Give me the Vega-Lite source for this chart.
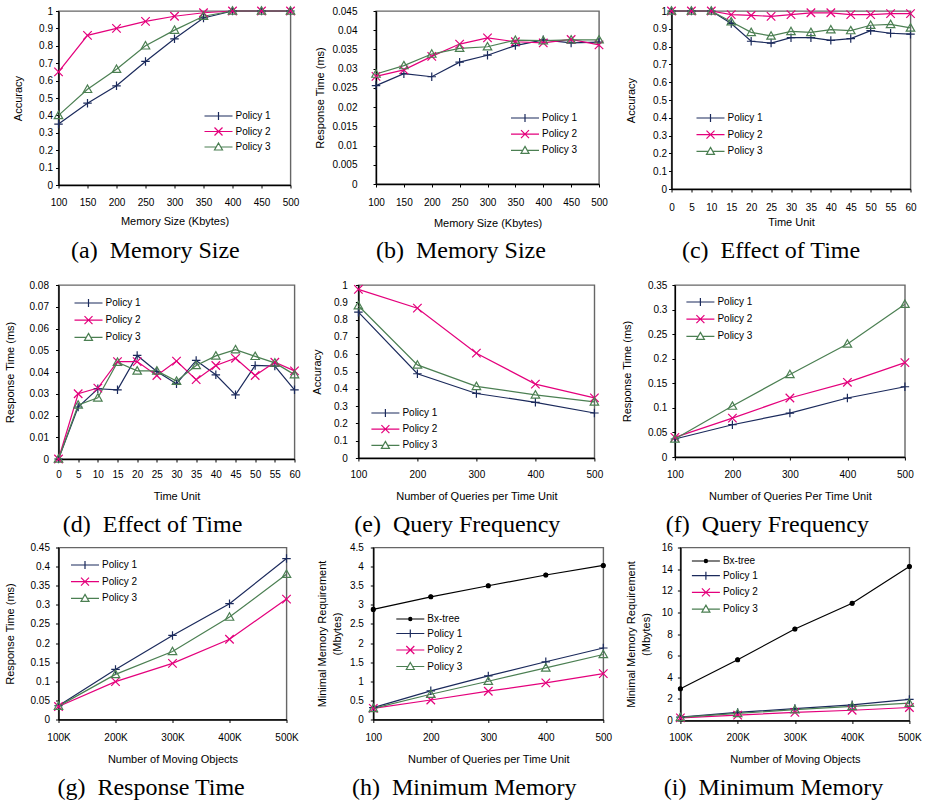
{
  "$schema": "https://vega.github.io/schema/vega-lite/v6.json",
  "background": "white",
  "padding": {"left": 2.5, "top": 3, "right": 0, "bottom": 4},
  "spacing": 15,
  "resolve": {"scale": {"color": "independent", "shape": "independent", "stroke": "independent", "fill": "independent"}, "legend": {"color": "independent", "shape": "independent", "stroke": "independent", "fill": "independent"}},
  "vconcat": [
    {
      "spacing": 12.5,
      "resolve": {"scale": {"color": "independent", "shape": "independent", "stroke": "independent", "fill": "independent"}, "legend": {"color": "independent", "shape": "independent", "stroke": "independent", "fill": "independent"}},
      "hconcat": [
        {
          "width": 232, "height": 174,
          "title": {"text": "(a) \u00a0Memory Size", "offset": 12.75},
          "data": {"values": [
            {"x":100,"y":0.35,"s":"Policy 1"},{"x":150,"y":0.47,"s":"Policy 1"},{"x":200,"y":0.57,"s":"Policy 1"},{"x":250,"y":0.71,"s":"Policy 1"},{"x":300,"y":0.84,"s":"Policy 1"},{"x":350,"y":0.96,"s":"Policy 1"},{"x":400,"y":1,"s":"Policy 1"},{"x":450,"y":1,"s":"Policy 1"},{"x":500,"y":1,"s":"Policy 1"},
            {"x":100,"y":0.65,"s":"Policy 2"},{"x":150,"y":0.86,"s":"Policy 2"},{"x":200,"y":0.9,"s":"Policy 2"},{"x":250,"y":0.94,"s":"Policy 2"},{"x":300,"y":0.97,"s":"Policy 2"},{"x":350,"y":0.99,"s":"Policy 2"},{"x":400,"y":1,"s":"Policy 2"},{"x":450,"y":1,"s":"Policy 2"},{"x":500,"y":1,"s":"Policy 2"},
            {"x":100,"y":0.4,"s":"Policy 3"},{"x":150,"y":0.55,"s":"Policy 3"},{"x":200,"y":0.665,"s":"Policy 3"},{"x":250,"y":0.8,"s":"Policy 3"},{"x":300,"y":0.89,"s":"Policy 3"},{"x":350,"y":0.97,"s":"Policy 3"},{"x":400,"y":1,"s":"Policy 3"},{"x":450,"y":1,"s":"Policy 3"},{"x":500,"y":1,"s":"Policy 3"}
          ]},
          "encoding": {
            "x": {"field": "x", "type": "quantitative", "scale": {"domain": [100, 500], "nice": false, "zero": false},
                  "axis": {"title": "Memory Size (Kbytes)", "values": [100,150,200,250,300,350,400,450,500], "format": ".4~f", "labelPadding": 9.3, "minExtent": 30.25, "maxExtent": 30.25}},
            "y": {"field": "y", "type": "quantitative", "scale": {"domain": [0, 1], "nice": false},
                  "axis": {"title": "Accuracy", "values": [0,0.1,0.2,0.3,0.4,0.5,0.6,0.7,0.8,0.9,1], "format": ".4~f", "labelPadding": 3, "minExtent": 35.5, "maxExtent": 35.5}}
          },
          "resolve": {"scale": {"shape": "independent", "stroke": "independent", "fill": "independent"}, "legend": {"shape": "independent", "stroke": "independent", "fill": "independent"}},
          "layer": [
            {"mark": {"type": "line", "strokeWidth": 1.2},
             "encoding": {"color": {"field": "s", "type": "nominal", "scale": {"domain": ["Policy 1","Policy 2","Policy 3"], "range": ["#1b2a5c","#e4007c","#4b7f52"]}, "legend": null}}},
            {"mark": {"type": "point", "filled": false, "size": 72, "strokeWidth": 1.2, "opacity": 1},
             "encoding": {"color": {"field": "s", "type": "nominal", "scale": {"domain": ["Policy 1","Policy 2","Policy 3"], "range": ["#1b2a5c","#e4007c","#4b7f52"]}, "legend": null},
                          "shape": {"field": "s", "type": "nominal", "scale": {"domain": ["Policy 1","Policy 2","Policy 3"], "range": ["M-1,0L1,0M0,-1L0,1","M-1,-1L1,1M-1,1L1,-1","M0,-1L1,0.75L-1,0.75Z"]}, "legend": null}}},
            {"transform": [{"filter": "false"}],
             "mark": {"type": "point", "size": 64, "strokeWidth": 1.2, "opacity": 1},
             "encoding": {
               "stroke": {"field": "s", "type": "nominal", "scale": {"domain": ["Policy 1","Policy 2","Policy 3"], "range": ["#1b2a5c","#e4007c","#4b7f52"]}, "legend": {"title": null, "legendX": 155, "legendY": 100, "rowPadding": 1.5}},
               "fill": {"field": "s", "type": "nominal", "scale": {"domain": ["Policy 1","Policy 2","Policy 3"], "range": ["transparent","transparent","transparent"]}, "legend": {"title": null, "legendX": 155, "legendY": 100, "rowPadding": 1.5}},
               "shape": {"field": "s", "type": "nominal", "scale": {"domain": ["Policy 1","Policy 2","Policy 3"], "range": ["M-3.5,0L3.5,0M0,-1L0,1","M-3.5,0L3.5,0M-1,-1L1,1M-1,1L1,-1","M-3.5,0L-0.57,0M0.57,0L3.5,0M0,-1L1,0.75L-1,0.75Z"]}, "legend": {"title": null, "legendX": 155, "legendY": 100, "rowPadding": 1.5}}
             }}
          ]
        },
        {
          "spacing": 14.5,
          "resolve": {"scale": {"color": "independent", "shape": "independent", "stroke": "independent", "fill": "independent"}, "legend": {"color": "independent", "shape": "independent", "stroke": "independent", "fill": "independent"}},
          "hconcat": [
            {
              "width": 223, "height": 173,
              "title": {"text": "(b) \u00a0Memory Size", "offset": 10.75},
              "data": {"values": [
                {"x":100,"y":0.0256,"s":"Policy 1"},{"x":150,"y":0.0287,"s":"Policy 1"},{"x":200,"y":0.0279,"s":"Policy 1"},{"x":250,"y":0.0317,"s":"Policy 1"},{"x":300,"y":0.0335,"s":"Policy 1"},{"x":350,"y":0.036,"s":"Policy 1"},{"x":400,"y":0.0375,"s":"Policy 1"},{"x":450,"y":0.0367,"s":"Policy 1"},{"x":500,"y":0.0369,"s":"Policy 1"},
                {"x":100,"y":0.028,"s":"Policy 2"},{"x":150,"y":0.0297,"s":"Policy 2"},{"x":200,"y":0.0332,"s":"Policy 2"},{"x":250,"y":0.0364,"s":"Policy 2"},{"x":300,"y":0.038,"s":"Policy 2"},{"x":350,"y":0.037,"s":"Policy 2"},{"x":400,"y":0.0367,"s":"Policy 2"},{"x":450,"y":0.0376,"s":"Policy 2"},{"x":500,"y":0.0362,"s":"Policy 2"},
                {"x":100,"y":0.0286,"s":"Policy 3"},{"x":150,"y":0.0308,"s":"Policy 3"},{"x":200,"y":0.0338,"s":"Policy 3"},{"x":250,"y":0.0353,"s":"Policy 3"},{"x":300,"y":0.0357,"s":"Policy 3"},{"x":350,"y":0.0374,"s":"Policy 3"},{"x":400,"y":0.0373,"s":"Policy 3"},{"x":450,"y":0.0375,"s":"Policy 3"},{"x":500,"y":0.0375,"s":"Policy 3"}
              ]},
              "encoding": {
                "x": {"field": "x", "type": "quantitative", "scale": {"domain": [100, 500], "nice": false, "zero": false},
                      "axis": {"title": "Memory Size (Kbytes)", "values": [100,150,200,250,300,350,400,450,500], "format": ".4~f", "labelPadding": 10.3, "minExtent": 33.25, "maxExtent": 33.25}},
                "y": {"field": "y", "type": "quantitative", "scale": {"domain": [0, 0.045], "nice": false},
                      "axis": {"title": "Response Time (ms)", "values": [0,0.005,0.01,0.015,0.02,0.025,0.03,0.035,0.04,0.045], "format": ".4~f", "labelPadding": 16, "minExtent": 50.5, "maxExtent": 50.5}}
              },
              "resolve": {"scale": {"shape": "independent", "stroke": "independent", "fill": "independent"}, "legend": {"shape": "independent", "stroke": "independent", "fill": "independent"}},
              "layer": [
                {"mark": {"type": "line", "strokeWidth": 1.2},
                 "encoding": {"color": {"field": "s", "type": "nominal", "scale": {"domain": ["Policy 1","Policy 2","Policy 3"], "range": ["#1b2a5c","#e4007c","#4b7f52"]}, "legend": null}}},
                {"mark": {"type": "point", "filled": false, "size": 72, "strokeWidth": 1.2, "opacity": 1},
                 "encoding": {"color": {"field": "s", "type": "nominal", "scale": {"domain": ["Policy 1","Policy 2","Policy 3"], "range": ["#1b2a5c","#e4007c","#4b7f52"]}, "legend": null},
                              "shape": {"field": "s", "type": "nominal", "scale": {"domain": ["Policy 1","Policy 2","Policy 3"], "range": ["M-1,0L1,0M0,-1L0,1","M-1,-1L1,1M-1,1L1,-1","M0,-1L1,0.75L-1,0.75Z"]}, "legend": null}}},
                {"transform": [{"filter": "false"}],
                 "mark": {"type": "point", "size": 64, "strokeWidth": 1.2, "opacity": 1},
                 "encoding": {
                   "stroke": {"field": "s", "type": "nominal", "scale": {"domain": ["Policy 1","Policy 2","Policy 3"], "range": ["#1b2a5c","#e4007c","#4b7f52"]}, "legend": {"title": null, "legendX": 144, "legendY": 102, "rowPadding": 2.2}},
                   "fill": {"field": "s", "type": "nominal", "scale": {"domain": ["Policy 1","Policy 2","Policy 3"], "range": ["transparent","transparent","transparent"]}, "legend": {"title": null, "legendX": 144, "legendY": 102, "rowPadding": 2.2}},
                   "shape": {"field": "s", "type": "nominal", "scale": {"domain": ["Policy 1","Policy 2","Policy 3"], "range": ["M-3.5,0L3.5,0M0,-1L0,1","M-3.5,0L3.5,0M-1,-1L1,1M-1,1L1,-1","M-3.5,0L-0.57,0M0.57,0L3.5,0M0,-1L1,0.75L-1,0.75Z"]}, "legend": {"title": null, "legendX": 144, "legendY": 102, "rowPadding": 2.2}}
                 }}
              ]
            },
            {
              "width": 239, "height": 178,
              "title": {"text": "(c) \u00a0Effect of Time", "offset": 11.75},
              "data": {"values": [
                {"x":0,"y":1,"s":"Policy 1"},{"x":5,"y":1,"s":"Policy 1"},{"x":10,"y":1,"s":"Policy 1"},{"x":15,"y":0.93,"s":"Policy 1"},{"x":20,"y":0.83,"s":"Policy 1"},{"x":25,"y":0.82,"s":"Policy 1"},{"x":30,"y":0.85,"s":"Policy 1"},{"x":35,"y":0.85,"s":"Policy 1"},{"x":40,"y":0.835,"s":"Policy 1"},{"x":45,"y":0.845,"s":"Policy 1"},{"x":50,"y":0.89,"s":"Policy 1"},{"x":55,"y":0.875,"s":"Policy 1"},{"x":60,"y":0.87,"s":"Policy 1"},
                {"x":0,"y":1,"s":"Policy 2"},{"x":5,"y":1,"s":"Policy 2"},{"x":10,"y":1,"s":"Policy 2"},{"x":15,"y":0.98,"s":"Policy 2"},{"x":20,"y":0.975,"s":"Policy 2"},{"x":25,"y":0.97,"s":"Policy 2"},{"x":30,"y":0.98,"s":"Policy 2"},{"x":35,"y":0.99,"s":"Policy 2"},{"x":40,"y":0.99,"s":"Policy 2"},{"x":45,"y":0.98,"s":"Policy 2"},{"x":50,"y":0.98,"s":"Policy 2"},{"x":55,"y":0.985,"s":"Policy 2"},{"x":60,"y":0.985,"s":"Policy 2"},
                {"x":0,"y":1,"s":"Policy 3"},{"x":5,"y":1,"s":"Policy 3"},{"x":10,"y":1,"s":"Policy 3"},{"x":15,"y":0.94,"s":"Policy 3"},{"x":20,"y":0.88,"s":"Policy 3"},{"x":25,"y":0.86,"s":"Policy 3"},{"x":30,"y":0.885,"s":"Policy 3"},{"x":35,"y":0.88,"s":"Policy 3"},{"x":40,"y":0.895,"s":"Policy 3"},{"x":45,"y":0.89,"s":"Policy 3"},{"x":50,"y":0.92,"s":"Policy 3"},{"x":55,"y":0.925,"s":"Policy 3"},{"x":60,"y":0.905,"s":"Policy 3"}
              ]},
              "encoding": {
                "x": {"field": "x", "type": "quantitative", "scale": {"domain": [0, 60], "nice": false, "zero": false},
                      "axis": {"title": "Time Unit", "values": [0,5,10,15,20,25,30,35,40,45,50,55,60], "format": ".4~f", "labelPadding": 10.6, "minExtent": 27.25, "maxExtent": 27.25}},
                "y": {"field": "y", "type": "quantitative", "scale": {"domain": [0, 1], "nice": false},
                      "axis": {"title": "Accuracy", "values": [0,0.1,0.2,0.3,0.4,0.5,0.6,0.7,0.8,0.9,1], "format": ".4~f", "labelPadding": 2, "minExtent": 35.5, "maxExtent": 35.5}}
              },
              "resolve": {"scale": {"shape": "independent", "stroke": "independent", "fill": "independent"}, "legend": {"shape": "independent", "stroke": "independent", "fill": "independent"}},
              "layer": [
                {"mark": {"type": "line", "strokeWidth": 1.2},
                 "encoding": {"color": {"field": "s", "type": "nominal", "scale": {"domain": ["Policy 1","Policy 2","Policy 3"], "range": ["#1b2a5c","#e4007c","#4b7f52"]}, "legend": null}}},
                {"mark": {"type": "point", "filled": false, "size": 72, "strokeWidth": 1.2, "opacity": 1},
                 "encoding": {"color": {"field": "s", "type": "nominal", "scale": {"domain": ["Policy 1","Policy 2","Policy 3"], "range": ["#1b2a5c","#e4007c","#4b7f52"]}, "legend": null},
                              "shape": {"field": "s", "type": "nominal", "scale": {"domain": ["Policy 1","Policy 2","Policy 3"], "range": ["M-1,0L1,0M0,-1L0,1","M-1,-1L1,1M-1,1L1,-1","M0,-1L1,0.75L-1,0.75Z"]}, "legend": null}}},
                {"transform": [{"filter": "false"}],
                 "mark": {"type": "point", "size": 64, "strokeWidth": 1.2, "opacity": 1},
                 "encoding": {
                   "stroke": {"field": "s", "type": "nominal", "scale": {"domain": ["Policy 1","Policy 2","Policy 3"], "range": ["#1b2a5c","#e4007c","#4b7f52"]}, "legend": {"title": null, "legendX": 34, "legendY": 102, "rowPadding": 2.7}},
                   "fill": {"field": "s", "type": "nominal", "scale": {"domain": ["Policy 1","Policy 2","Policy 3"], "range": ["transparent","transparent","transparent"]}, "legend": {"title": null, "legendX": 34, "legendY": 102, "rowPadding": 2.7}},
                   "shape": {"field": "s", "type": "nominal", "scale": {"domain": ["Policy 1","Policy 2","Policy 3"], "range": ["M-3.5,0L3.5,0M0,-1L0,1","M-3.5,0L3.5,0M-1,-1L1,1M-1,1L1,-1","M-3.5,0L-0.57,0M0.57,0L3.5,0M0,-1L1,0.75L-1,0.75Z"]}, "legend": {"title": null, "legendX": 34, "legendY": 102, "rowPadding": 2.7}}
                 }}
              ]
            }
          ]
        }
      ]
    },
    {
      "spacing": 3.5,
      "resolve": {"scale": {"color": "independent", "shape": "independent", "stroke": "independent", "fill": "independent"}, "legend": {"color": "independent", "shape": "independent", "stroke": "independent", "fill": "independent"}},
      "vconcat": [
        {
          "spacing": 7.9,
          "resolve": {"scale": {"color": "independent", "shape": "independent", "stroke": "independent", "fill": "independent"}, "legend": {"color": "independent", "shape": "independent", "stroke": "independent", "fill": "independent"}},
          "hconcat": [
            {
              "width": 236, "height": 174,
              "title": {"text": "(d) \u00a0Effect of Time", "offset": 11.75},
              "data": {"values": [
                {"x":0,"y":0,"s":"Policy 1"},{"x":5,"y":0.0239,"s":"Policy 1"},{"x":10,"y":0.0323,"s":"Policy 1"},{"x":15,"y":0.0318,"s":"Policy 1"},{"x":20,"y":0.0476,"s":"Policy 1"},{"x":25,"y":0.0402,"s":"Policy 1"},{"x":30,"y":0.0346,"s":"Policy 1"},{"x":35,"y":0.0453,"s":"Policy 1"},{"x":40,"y":0.0387,"s":"Policy 1"},{"x":45,"y":0.0295,"s":"Policy 1"},{"x":50,"y":0.043,"s":"Policy 1"},{"x":55,"y":0.0427,"s":"Policy 1"},{"x":60,"y":0.0318,"s":"Policy 1"},
                {"x":0,"y":0,"s":"Policy 2"},{"x":5,"y":0.03,"s":"Policy 2"},{"x":10,"y":0.0326,"s":"Policy 2"},{"x":15,"y":0.0448,"s":"Policy 2"},{"x":20,"y":0.0448,"s":"Policy 2"},{"x":25,"y":0.0384,"s":"Policy 2"},{"x":30,"y":0.045,"s":"Policy 2"},{"x":35,"y":0.0365,"s":"Policy 2"},{"x":40,"y":0.043,"s":"Policy 2"},{"x":45,"y":0.0463,"s":"Policy 2"},{"x":50,"y":0.0384,"s":"Policy 2"},{"x":55,"y":0.0445,"s":"Policy 2"},{"x":60,"y":0.0405,"s":"Policy 2"},
                {"x":0,"y":0,"s":"Policy 3"},{"x":5,"y":0.0248,"s":"Policy 3"},{"x":10,"y":0.0281,"s":"Policy 3"},{"x":15,"y":0.0445,"s":"Policy 3"},{"x":20,"y":0.0405,"s":"Policy 3"},{"x":25,"y":0.0405,"s":"Policy 3"},{"x":30,"y":0.0358,"s":"Policy 3"},{"x":35,"y":0.043,"s":"Policy 3"},{"x":40,"y":0.0474,"s":"Policy 3"},{"x":45,"y":0.0503,"s":"Policy 3"},{"x":50,"y":0.0472,"s":"Policy 3"},{"x":55,"y":0.0442,"s":"Policy 3"},{"x":60,"y":0.0388,"s":"Policy 3"}
              ]},
              "encoding": {
                "x": {"field": "x", "type": "quantitative", "scale": {"domain": [0, 60], "nice": false, "zero": false},
                      "axis": {"title": "Time Unit", "values": [0,5,10,15,20,25,30,35,40,45,50,55,60], "format": ".4~f", "labelPadding": 7.6, "minExtent": 31.25, "maxExtent": 31.25}},
                "y": {"field": "y", "type": "quantitative", "scale": {"domain": [0, 0.08], "nice": false},
                      "axis": {"title": "Response Time (ms)", "values": [0,0.01,0.02,0.03,0.04,0.05,0.06,0.07,0.08], "format": ".4~f", "labelPadding": 7, "minExtent": 43.5, "maxExtent": 43.5}}
              },
              "resolve": {"scale": {"shape": "independent", "stroke": "independent", "fill": "independent"}, "legend": {"shape": "independent", "stroke": "independent", "fill": "independent"}},
              "layer": [
                {"mark": {"type": "line", "strokeWidth": 1.2},
                 "encoding": {"color": {"field": "s", "type": "nominal", "scale": {"domain": ["Policy 1","Policy 2","Policy 3"], "range": ["#1b2a5c","#e4007c","#4b7f52"]}, "legend": null}}},
                {"mark": {"type": "point", "filled": false, "size": 72, "strokeWidth": 1.2, "opacity": 1},
                 "encoding": {"color": {"field": "s", "type": "nominal", "scale": {"domain": ["Policy 1","Policy 2","Policy 3"], "range": ["#1b2a5c","#e4007c","#4b7f52"]}, "legend": null},
                              "shape": {"field": "s", "type": "nominal", "scale": {"domain": ["Policy 1","Policy 2","Policy 3"], "range": ["M-1,0L1,0M0,-1L0,1","M-1,-1L1,1M-1,1L1,-1","M0,-1L1,0.75L-1,0.75Z"]}, "legend": null}}},
                {"transform": [{"filter": "false"}],
                 "mark": {"type": "point", "size": 64, "strokeWidth": 1.2, "opacity": 1},
                 "encoding": {
                   "stroke": {"field": "s", "type": "nominal", "scale": {"domain": ["Policy 1","Policy 2","Policy 3"], "range": ["#1b2a5c","#e4007c","#4b7f52"]}, "legend": {"title": null, "legendX": 25, "legendY": 13, "rowPadding": 3.2}},
                   "fill": {"field": "s", "type": "nominal", "scale": {"domain": ["Policy 1","Policy 2","Policy 3"], "range": ["transparent","transparent","transparent"]}, "legend": {"title": null, "legendX": 25, "legendY": 13, "rowPadding": 3.2}},
                   "shape": {"field": "s", "type": "nominal", "scale": {"domain": ["Policy 1","Policy 2","Policy 3"], "range": ["M-3.5,0L3.5,0M0,-1L0,1","M-3.5,0L3.5,0M-1,-1L1,1M-1,1L1,-1","M-3.5,0L-0.57,0M0.57,0L3.5,0M0,-1L1,0.75L-1,0.75Z"]}, "legend": {"title": null, "legendX": 25, "legendY": 13, "rowPadding": 3.2}}
                 }}
              ]
            },
            {
              "spacing": 15.5,
              "resolve": {"scale": {"color": "independent", "shape": "independent", "stroke": "independent", "fill": "independent"}, "legend": {"color": "independent", "shape": "independent", "stroke": "independent", "fill": "independent"}},
              "hconcat": [
                {
                  "width": 236, "height": 173,
                  "title": {"text": "(e) \u00a0Query Frequency", "offset": 11.75},
                  "data": {"values": [
                    {"x":100,"y":0.843,"s":"Policy 1"},{"x":200,"y":0.487,"s":"Policy 1"},{"x":300,"y":0.373,"s":"Policy 1"},{"x":400,"y":0.322,"s":"Policy 1"},{"x":500,"y":0.26,"s":"Policy 1"},
                    {"x":100,"y":0.975,"s":"Policy 2"},{"x":200,"y":0.866,"s":"Policy 2"},{"x":300,"y":0.606,"s":"Policy 2"},{"x":400,"y":0.427,"s":"Policy 2"},{"x":500,"y":0.348,"s":"Policy 2"},
                    {"x":100,"y":0.88,"s":"Policy 3"},{"x":200,"y":0.538,"s":"Policy 3"},{"x":300,"y":0.414,"s":"Policy 3"},{"x":400,"y":0.365,"s":"Policy 3"},{"x":500,"y":0.324,"s":"Policy 3"}
                  ]},
                  "encoding": {
                    "x": {"field": "x", "type": "quantitative", "scale": {"domain": [100, 500], "nice": false, "zero": false},
                          "axis": {"title": "Number of Queries per Time Unit", "values": [100,200,300,400,500], "format": ".4~f", "labelPadding": 8.6, "minExtent": 32.25, "maxExtent": 32.25}},
                    "y": {"field": "y", "type": "quantitative", "scale": {"domain": [0, 1], "nice": false},
                          "axis": {"title": "Accuracy", "values": [0,0.1,0.2,0.3,0.4,0.5,0.6,0.7,0.8,0.9,1], "format": ".4~f", "labelPadding": 8, "minExtent": 35.5, "maxExtent": 35.5}}
                  },
                  "resolve": {"scale": {"shape": "independent", "stroke": "independent", "fill": "independent"}, "legend": {"shape": "independent", "stroke": "independent", "fill": "independent"}},
                  "layer": [
                    {"mark": {"type": "line", "strokeWidth": 1.2},
                     "encoding": {"color": {"field": "s", "type": "nominal", "scale": {"domain": ["Policy 1","Policy 2","Policy 3"], "range": ["#1b2a5c","#e4007c","#4b7f52"]}, "legend": null}}},
                    {"mark": {"type": "point", "filled": false, "size": 72, "strokeWidth": 1.2, "opacity": 1},
                     "encoding": {"color": {"field": "s", "type": "nominal", "scale": {"domain": ["Policy 1","Policy 2","Policy 3"], "range": ["#1b2a5c","#e4007c","#4b7f52"]}, "legend": null},
                                  "shape": {"field": "s", "type": "nominal", "scale": {"domain": ["Policy 1","Policy 2","Policy 3"], "range": ["M-1,0L1,0M0,-1L0,1","M-1,-1L1,1M-1,1L1,-1","M0,-1L1,0.75L-1,0.75Z"]}, "legend": null}}},
                    {"transform": [{"filter": "false"}],
                     "mark": {"type": "point", "size": 64, "strokeWidth": 1.2, "opacity": 1},
                     "encoding": {
                       "stroke": {"field": "s", "type": "nominal", "scale": {"domain": ["Policy 1","Policy 2","Policy 3"], "range": ["#1b2a5c","#e4007c","#4b7f52"]}, "legend": {"title": null, "legendX": 22, "legendY": 123, "rowPadding": 2.2}},
                       "fill": {"field": "s", "type": "nominal", "scale": {"domain": ["Policy 1","Policy 2","Policy 3"], "range": ["transparent","transparent","transparent"]}, "legend": {"title": null, "legendX": 22, "legendY": 123, "rowPadding": 2.2}},
                       "shape": {"field": "s", "type": "nominal", "scale": {"domain": ["Policy 1","Policy 2","Policy 3"], "range": ["M-3.5,0L3.5,0M0,-1L0,1","M-3.5,0L3.5,0M-1,-1L1,1M-1,1L1,-1","M-3.5,0L-0.57,0M0.57,0L3.5,0M0,-1L1,0.75L-1,0.75Z"]}, "legend": {"title": null, "legendX": 22, "legendY": 123, "rowPadding": 2.2}}
                     }}
                  ]
                },
                {
                  "width": 230, "height": 172,
                  "title": {"text": "(f) \u00a0Query Frequency", "offset": 11.75},
                  "data": {"values": [
                    {"x":100,"y":0.0366,"s":"Policy 1"},{"x":200,"y":0.0657,"s":"Policy 1"},{"x":300,"y":0.0894,"s":"Policy 1"},{"x":400,"y":0.12,"s":"Policy 1"},{"x":500,"y":0.143,"s":"Policy 1"},
                    {"x":100,"y":0.04,"s":"Policy 2"},{"x":200,"y":0.0792,"s":"Policy 2"},{"x":300,"y":0.12,"s":"Policy 2"},{"x":400,"y":0.152,"s":"Policy 2"},{"x":500,"y":0.192,"s":"Policy 2"},
                    {"x":100,"y":0.0366,"s":"Policy 3"},{"x":200,"y":0.1036,"s":"Policy 3"},{"x":300,"y":0.168,"s":"Policy 3"},{"x":400,"y":0.23,"s":"Policy 3"},{"x":500,"y":0.311,"s":"Policy 3"}
                  ]},
                  "encoding": {
                    "x": {"field": "x", "type": "quantitative", "scale": {"domain": [100, 500], "nice": false, "zero": false},
                          "axis": {"title": "Number of Queries Per Time Unit", "values": [100,200,300,400,500], "format": ".4~f", "labelPadding": 9.6, "minExtent": 33.25, "maxExtent": 33.25}},
                    "y": {"field": "y", "type": "quantitative", "scale": {"domain": [0, 0.35], "nice": false},
                          "axis": {"title": "Response Time (ms)", "values": [0,0.05,0.1,0.15,0.2,0.25,0.3,0.35], "format": ".4~f", "labelPadding": 5, "minExtent": 42.5, "maxExtent": 42.5}}
                  },
                  "resolve": {"scale": {"shape": "independent", "stroke": "independent", "fill": "independent"}, "legend": {"shape": "independent", "stroke": "independent", "fill": "independent"}},
                  "layer": [
                    {"mark": {"type": "line", "strokeWidth": 1.2},
                     "encoding": {"color": {"field": "s", "type": "nominal", "scale": {"domain": ["Policy 1","Policy 2","Policy 3"], "range": ["#1b2a5c","#e4007c","#4b7f52"]}, "legend": null}}},
                    {"mark": {"type": "point", "filled": false, "size": 72, "strokeWidth": 1.2, "opacity": 1},
                     "encoding": {"color": {"field": "s", "type": "nominal", "scale": {"domain": ["Policy 1","Policy 2","Policy 3"], "range": ["#1b2a5c","#e4007c","#4b7f52"]}, "legend": null},
                                  "shape": {"field": "s", "type": "nominal", "scale": {"domain": ["Policy 1","Policy 2","Policy 3"], "range": ["M-1,0L1,0M0,-1L0,1","M-1,-1L1,1M-1,1L1,-1","M0,-1L1,0.75L-1,0.75Z"]}, "legend": null}}},
                    {"transform": [{"filter": "false"}],
                     "mark": {"type": "point", "size": 64, "strokeWidth": 1.2, "opacity": 1},
                     "encoding": {
                       "stroke": {"field": "s", "type": "nominal", "scale": {"domain": ["Policy 1","Policy 2","Policy 3"], "range": ["#1b2a5c","#e4007c","#4b7f52"]}, "legend": {"title": null, "legendX": 20.5, "legendY": 12, "rowPadding": 3.2}},
                       "fill": {"field": "s", "type": "nominal", "scale": {"domain": ["Policy 1","Policy 2","Policy 3"], "range": ["transparent","transparent","transparent"]}, "legend": {"title": null, "legendX": 20.5, "legendY": 12, "rowPadding": 3.2}},
                       "shape": {"field": "s", "type": "nominal", "scale": {"domain": ["Policy 1","Policy 2","Policy 3"], "range": ["M-3.5,0L3.5,0M0,-1L0,1","M-3.5,0L3.5,0M-1,-1L1,1M-1,1L1,-1","M-3.5,0L-0.57,0M0.57,0L3.5,0M0,-1L1,0.75L-1,0.75Z"]}, "legend": {"title": null, "legendX": 20.5, "legendY": 12, "rowPadding": 3.2}}
                     }}
                  ]
                }
              ]
            }
          ]
        },
        {
          "spacing": 15.8,
          "resolve": {"scale": {"color": "independent", "shape": "independent", "stroke": "independent", "fill": "independent"}, "legend": {"color": "independent", "shape": "independent", "stroke": "independent", "fill": "independent"}},
          "hconcat": [
            {
              "width": 228, "height": 172,
              "title": {"text": "(g) \u00a0Response Time", "offset": 11.75},
              "data": {"values": [
                {"x":100,"y":0.036,"s":"Policy 1"},{"x":200,"y":0.131,"s":"Policy 1"},{"x":300,"y":0.22,"s":"Policy 1"},{"x":400,"y":0.303,"s":"Policy 1"},{"x":500,"y":0.421,"s":"Policy 1"},
                {"x":100,"y":0.034,"s":"Policy 2"},{"x":200,"y":0.099,"s":"Policy 2"},{"x":300,"y":0.147,"s":"Policy 2"},{"x":400,"y":0.21,"s":"Policy 2"},{"x":500,"y":0.315,"s":"Policy 2"},
                {"x":100,"y":0.035,"s":"Policy 3"},{"x":200,"y":0.118,"s":"Policy 3"},{"x":300,"y":0.178,"s":"Policy 3"},{"x":400,"y":0.268,"s":"Policy 3"},{"x":500,"y":0.38,"s":"Policy 3"}
              ]},
              "encoding": {
                "x": {"field": "x", "type": "quantitative", "scale": {"domain": [100, 500], "nice": false, "zero": false},
                      "axis": {"title": "Number of Moving Objects", "values": [100,200,300,400,500], "labelExpr": "datum.value + 'K'", "labelPadding": 10.1, "minExtent": 33.75, "maxExtent": 33.75}},
                "y": {"field": "y", "type": "quantitative", "scale": {"domain": [0, 0.45], "nice": false},
                      "axis": {"title": "Response Time (ms)", "values": [0,0.05,0.1,0.15,0.2,0.25,0.3,0.35,0.4,0.45], "format": ".4~f", "labelPadding": 6, "minExtent": 43.5, "maxExtent": 43.5}}
              },
              "resolve": {"scale": {"shape": "independent", "stroke": "independent", "fill": "independent"}, "legend": {"shape": "independent", "stroke": "independent", "fill": "independent"}},
              "layer": [
                {"mark": {"type": "line", "strokeWidth": 1.2},
                 "encoding": {"color": {"field": "s", "type": "nominal", "scale": {"domain": ["Policy 1","Policy 2","Policy 3"], "range": ["#1b2a5c","#e4007c","#4b7f52"]}, "legend": null}}},
                {"mark": {"type": "point", "filled": false, "size": 72, "strokeWidth": 1.2, "opacity": 1},
                 "encoding": {"color": {"field": "s", "type": "nominal", "scale": {"domain": ["Policy 1","Policy 2","Policy 3"], "range": ["#1b2a5c","#e4007c","#4b7f52"]}, "legend": null},
                              "shape": {"field": "s", "type": "nominal", "scale": {"domain": ["Policy 1","Policy 2","Policy 3"], "range": ["M-1,0L1,0M0,-1L0,1","M-1,-1L1,1M-1,1L1,-1","M0,-1L1,0.75L-1,0.75Z"]}, "legend": null}}},
                {"transform": [{"filter": "false"}],
                 "mark": {"type": "point", "size": 64, "strokeWidth": 1.2, "opacity": 1},
                 "encoding": {
                   "stroke": {"field": "s", "type": "nominal", "scale": {"domain": ["Policy 1","Policy 2","Policy 3"], "range": ["#1b2a5c","#e4007c","#4b7f52"]}, "legend": {"title": null, "legendX": 21.5, "legendY": 12.5, "rowPadding": 2.7}},
                   "fill": {"field": "s", "type": "nominal", "scale": {"domain": ["Policy 1","Policy 2","Policy 3"], "range": ["transparent","transparent","transparent"]}, "legend": {"title": null, "legendX": 21.5, "legendY": 12.5, "rowPadding": 2.7}},
                   "shape": {"field": "s", "type": "nominal", "scale": {"domain": ["Policy 1","Policy 2","Policy 3"], "range": ["M-3.5,0L3.5,0M0,-1L0,1","M-3.5,0L3.5,0M-1,-1L1,1M-1,1L1,-1","M-3.5,0L-0.57,0M0.57,0L3.5,0M0,-1L1,0.75L-1,0.75Z"]}, "legend": {"title": null, "legendX": 21.5, "legendY": 12.5, "rowPadding": 2.7}}
                 }}
              ]
            },
            {
              "spacing": 11.1,
              "resolve": {"scale": {"color": "independent", "shape": "independent", "stroke": "independent", "fill": "independent"}, "legend": {"color": "independent", "shape": "independent", "stroke": "independent", "fill": "independent"}},
              "hconcat": [
                {
                  "width": 230, "height": 172,
                  "title": {"text": "(h) \u00a0Minimum Memory", "offset": 11.75},
                  "data": {"values": [
                    {"x":100,"y":2.88,"s":"Bx-tree"},{"x":200,"y":3.21,"s":"Bx-tree"},{"x":300,"y":3.5,"s":"Bx-tree"},{"x":400,"y":3.78,"s":"Bx-tree"},{"x":500,"y":4.03,"s":"Bx-tree"},
                    {"x":100,"y":0.31,"s":"Policy 1"},{"x":200,"y":0.75,"s":"Policy 1"},{"x":300,"y":1.14,"s":"Policy 1"},{"x":400,"y":1.51,"s":"Policy 1"},{"x":500,"y":1.87,"s":"Policy 1"},
                    {"x":100,"y":0.29,"s":"Policy 2"},{"x":200,"y":0.51,"s":"Policy 2"},{"x":300,"y":0.74,"s":"Policy 2"},{"x":400,"y":0.96,"s":"Policy 2"},{"x":500,"y":1.2,"s":"Policy 2"},
                    {"x":100,"y":0.29,"s":"Policy 3"},{"x":200,"y":0.66,"s":"Policy 3"},{"x":300,"y":1.0,"s":"Policy 3"},{"x":400,"y":1.35,"s":"Policy 3"},{"x":500,"y":1.7,"s":"Policy 3"}
                  ]},
                  "encoding": {
                    "x": {"field": "x", "type": "quantitative", "scale": {"domain": [100, 500], "nice": false, "zero": false},
                          "axis": {"title": "Number of Queries per Time Unit", "values": [100,200,300,400,500], "format": ".4~f", "labelPadding": 10.1, "minExtent": 33.75, "maxExtent": 33.75}},
                    "y": {"field": "y", "type": "quantitative", "scale": {"domain": [0, 4.5], "nice": false},
                          "axis": {"title": ["Minimal Memory Requirement", "(Mbytes)"], "values": [0,0.5,1,1.5,2,2.5,3,3.5,4,4.5], "format": ".4~f", "labelPadding": 7, "minExtent": 30.5, "maxExtent": 30.5}}
                  },
                  "resolve": {"scale": {"shape": "independent", "stroke": "independent", "fill": "independent"}, "legend": {"shape": "independent", "stroke": "independent", "fill": "independent"}},
                  "layer": [
                    {"mark": {"type": "line", "strokeWidth": 1.2},
                     "encoding": {"color": {"field": "s", "type": "nominal", "scale": {"domain": ["Bx-tree","Policy 1","Policy 2","Policy 3"], "range": ["#000000","#1b2a5c","#e4007c","#4b7f52"]}, "legend": null}}},
                    {"mark": {"type": "point", "filled": false, "size": 72, "strokeWidth": 1.2, "opacity": 1},
                     "encoding": {"color": {"field": "s", "type": "nominal", "scale": {"domain": ["Bx-tree","Policy 1","Policy 2","Policy 3"], "range": ["#000000","#1b2a5c","#e4007c","#4b7f52"]}, "legend": null},
                                  "shape": {"field": "s", "type": "nominal", "scale": {"domain": ["Bx-tree","Policy 1","Policy 2","Policy 3"], "range": ["M0.4,0A0.4,0.4,0,1,1,-0.4,0A0.4,0.4,0,1,1,0.4,0Z","M-1,0L1,0M0,-1L0,1","M-1,-1L1,1M-1,1L1,-1","M0,-1L1,0.75L-1,0.75Z"]}, "legend": null}}},
                    {"transform": [{"filter": "datum.s === 'Bx-tree'"}], "mark": {"type": "circle", "size": 26, "opacity": 1, "color": "#000000"}, "encoding": {}},
                    {"transform": [{"filter": "false"}],
                     "mark": {"type": "point", "size": 64, "strokeWidth": 1.2, "opacity": 1},
                     "encoding": {
                       "stroke": {"field": "s", "type": "nominal", "scale": {"domain": ["Bx-tree","Policy 1","Policy 2","Policy 3"], "range": ["#000000","#1b2a5c","#e4007c","#4b7f52"]}, "legend": {"title": null, "legendX": 32, "legendY": 66.5, "rowPadding": 2.5}},
                       "fill": {"field": "s", "type": "nominal", "scale": {"domain": ["Bx-tree","Policy 1","Policy 2","Policy 3"], "range": ["#000000","transparent","transparent","transparent"]}, "legend": {"title": null, "legendX": 32, "legendY": 66.5, "rowPadding": 2.5}},
                       "shape": {"field": "s", "type": "nominal", "scale": {"domain": ["Bx-tree","Policy 1","Policy 2","Policy 3"], "range": ["M-3.5,0L3.5,0M0.4,0A0.4,0.4,0,1,1,-0.4,0A0.4,0.4,0,1,1,0.4,0Z","M-3.5,0L3.5,0M0,-1L0,1","M-3.5,0L3.5,0M-1,-1L1,1M-1,1L1,-1","M-3.5,0L-0.57,0M0.57,0L3.5,0M0,-1L1,0.75L-1,0.75Z"]}, "legend": {"title": null, "legendX": 32, "legendY": 66.5, "rowPadding": 2.5}}
                     }}
                  ]
                },
                {
                  "width": 229, "height": 173,
                  "title": {"text": "(i) \u00a0Minimum Memory", "offset": 11.75},
                  "data": {"values": [
                    {"x":100,"y":2.93,"s":"Bx-tree"},{"x":200,"y":5.62,"s":"Bx-tree"},{"x":300,"y":8.46,"s":"Bx-tree"},{"x":400,"y":10.84,"s":"Bx-tree"},{"x":500,"y":14.24,"s":"Bx-tree"},
                    {"x":100,"y":0.31,"s":"Policy 1"},{"x":200,"y":0.75,"s":"Policy 1"},{"x":300,"y":1.1,"s":"Policy 1"},{"x":400,"y":1.45,"s":"Policy 1"},{"x":500,"y":1.95,"s":"Policy 1"},
                    {"x":100,"y":0.25,"s":"Policy 2"},{"x":200,"y":0.5,"s":"Policy 2"},{"x":300,"y":0.75,"s":"Policy 2"},{"x":400,"y":0.95,"s":"Policy 2"},{"x":500,"y":1.2,"s":"Policy 2"},
                    {"x":100,"y":0.28,"s":"Policy 3"},{"x":200,"y":0.65,"s":"Policy 3"},{"x":300,"y":1.0,"s":"Policy 3"},{"x":400,"y":1.3,"s":"Policy 3"},{"x":500,"y":1.6,"s":"Policy 3"}
                  ]},
                  "encoding": {
                    "x": {"field": "x", "type": "quantitative", "scale": {"domain": [100, 500], "nice": false, "zero": false},
                          "axis": {"title": "Number of Moving Objects", "values": [100,200,300,400,500], "labelExpr": "datum.value + 'K'", "labelPadding": 9.1, "minExtent": 32.75, "maxExtent": 32.75}},
                    "y": {"field": "y", "type": "quantitative", "scale": {"domain": [0, 16], "nice": false},
                          "axis": {"title": ["Minimal Memory Requirement", "(Mbytes)"], "values": [0,2,4,6,8,10,12,14,16], "format": ".4~f", "labelPadding": 5, "minExtent": 28.5, "maxExtent": 28.5}}
                  },
                  "resolve": {"scale": {"shape": "independent", "stroke": "independent", "fill": "independent"}, "legend": {"shape": "independent", "stroke": "independent", "fill": "independent"}},
                  "layer": [
                    {"mark": {"type": "line", "strokeWidth": 1.2},
                     "encoding": {"color": {"field": "s", "type": "nominal", "scale": {"domain": ["Bx-tree","Policy 1","Policy 2","Policy 3"], "range": ["#000000","#1b2a5c","#e4007c","#4b7f52"]}, "legend": null}}},
                    {"mark": {"type": "point", "filled": false, "size": 72, "strokeWidth": 1.2, "opacity": 1},
                     "encoding": {"color": {"field": "s", "type": "nominal", "scale": {"domain": ["Bx-tree","Policy 1","Policy 2","Policy 3"], "range": ["#000000","#1b2a5c","#e4007c","#4b7f52"]}, "legend": null},
                                  "shape": {"field": "s", "type": "nominal", "scale": {"domain": ["Bx-tree","Policy 1","Policy 2","Policy 3"], "range": ["M0.4,0A0.4,0.4,0,1,1,-0.4,0A0.4,0.4,0,1,1,0.4,0Z","M-1,0L1,0M0,-1L0,1","M-1,-1L1,1M-1,1L1,-1","M0,-1L1,0.75L-1,0.75Z"]}, "legend": null}}},
                    {"transform": [{"filter": "datum.s === 'Bx-tree'"}], "mark": {"type": "circle", "size": 26, "opacity": 1, "color": "#000000"}, "encoding": {}},
                    {"transform": [{"filter": "false"}],
                     "mark": {"type": "point", "size": 64, "strokeWidth": 1.2, "opacity": 1},
                     "encoding": {
                       "stroke": {"field": "s", "type": "nominal", "scale": {"domain": ["Bx-tree","Policy 1","Policy 2","Policy 3"], "range": ["#000000","#1b2a5c","#e4007c","#4b7f52"]}, "legend": {"title": null, "legendX": 20.5, "legendY": 8.5, "rowPadding": 2.7}},
                       "fill": {"field": "s", "type": "nominal", "scale": {"domain": ["Bx-tree","Policy 1","Policy 2","Policy 3"], "range": ["#000000","transparent","transparent","transparent"]}, "legend": {"title": null, "legendX": 20.5, "legendY": 8.5, "rowPadding": 2.7}},
                       "shape": {"field": "s", "type": "nominal", "scale": {"domain": ["Bx-tree","Policy 1","Policy 2","Policy 3"], "range": ["M-3.5,0L3.5,0M0.4,0A0.4,0.4,0,1,1,-0.4,0A0.4,0.4,0,1,1,0.4,0Z","M-3.5,0L3.5,0M0,-1L0,1","M-3.5,0L3.5,0M-1,-1L1,1M-1,1L1,-1","M-3.5,0L-0.57,0M0.57,0L3.5,0M0,-1L1,0.75L-1,0.75Z"]}, "legend": {"title": null, "legendX": 20.5, "legendY": 8.5, "rowPadding": 2.7}}
                     }}
                  ]
                }
              ]
            }
          ]
        }
      ]
    }
  ],
  "config": {
    "font": "Liberation Sans",
    "view": {"stroke": "#666666", "strokeWidth": 1.4},
    "axis": {"grid": false, "domainColor": "#000000", "domainWidth": 1.4, "tickColor": "#000000", "tickSize": 3, "tickWidth": 1, "labelFlush": false,
             "labelColor": "#000000", "labelFont": "Liberation Sans", "labelFontSize": 10,
             "titleFont": "Liberation Sans", "titleFontSize": 11, "titleFontWeight": "normal", "titleColor": "#000000", "titlePadding": 0, "titleLineHeight": 15},
    "title": {"font": "Liberation Serif", "fontSize": 24, "fontWeight": "normal", "color": "#000000", "orient": "bottom", "anchor": "middle", "frame": "bounds"},
    "legend": {"orient": "none", "labelFont": "Liberation Sans", "labelFontSize": 10, "labelColor": "#000000", "symbolSize": 64, "symbolStrokeWidth": 1.2, "labelOffset": 12, "padding": 0}
  }
}
